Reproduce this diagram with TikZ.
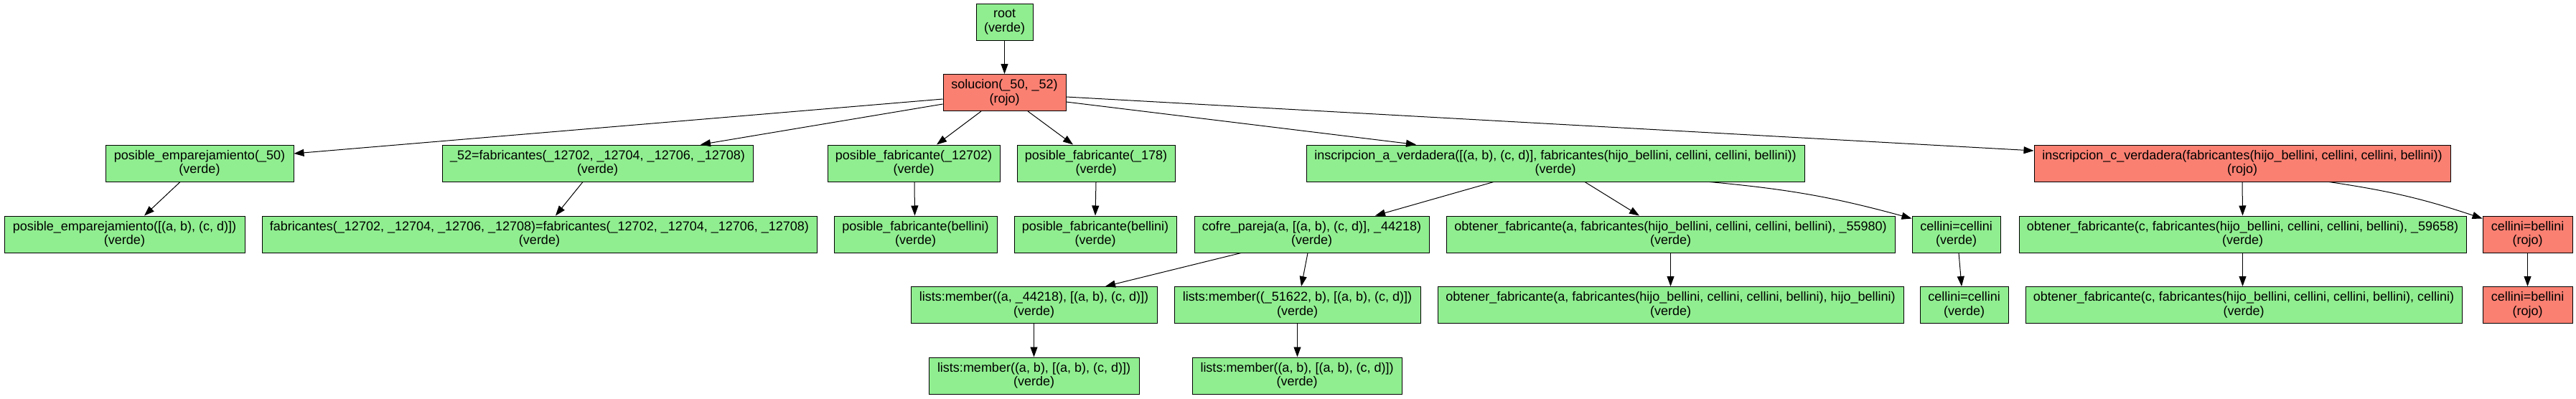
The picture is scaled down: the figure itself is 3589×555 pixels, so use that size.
\documentclass[tikz,border=0pt]{standalone}
\usepackage{fontspec}
\setmainfont{Liberation Sans}
\usetikzlibrary{arrows.meta,calc}
\definecolor{verdeC}{HTML}{90EE90}
\definecolor{rojoC}{HTML}{FA8072}
\tikzset{
 box/.style={draw=black, line width=1pt, minimum height=51pt, inner xsep=2pt, inner ysep=0pt, align=center, font=\fontsize{18}{19.5}\selectfont},
 verde/.style={box, fill=verdeC},
 rojo/.style={box, fill=rojoC},
 arr/.style={-{Triangle[length=14pt,width=10pt]}, line width=1pt}
}
\begin{document}
\begin{tikzpicture}[x=1pt,y=-1pt]
\useasboundingbox (0,0) rectangle (3589,555);
% level 0-1
\node[verde, minimum width=79pt] (root) at (1399.5,30.5) {root\\(verde)};
\node[rojo, minimum width=171pt] (sol) at (1399.5,129) {solucion(\_50, \_52)\\(rojo)};
% level 2
\node[verde, minimum width=262pt] (pe50) at (278,227.5) {posible\_emparejamiento(\_50)\\(verde)};
\node[verde, minimum width=433pt] (f52) at (832.5,227.5) {\_52=fabricantes(\_12702, \_12704, \_12706, \_12708)\\(verde)};
\node[verde, minimum width=240pt] (pf1) at (1273,227.5) {posible\_fabricante(\_12702)\\(verde)};
\node[verde, minimum width=220pt] (pf2) at (1527,227.5) {posible\_fabricante(\_178)\\(verde)};
\node[verde, minimum width=694pt] (insa) at (2167,227.5) {inscripcion\_a\_verdadera([(a, b), (c, d)], fabricantes(hijo\_bellini, cellini, cellini, bellini))\\(verde)};
\node[rojo, minimum width=580pt] (insc) at (3124,227.5) {inscripcion\_c\_verdadera(fabricantes(hijo\_bellini, cellini, cellini, bellini))\\(rojo)};
% level 3
\node[verde, minimum width=335pt] (pe) at (173.5,326.5) {posible\_emparejamiento([(a, b), (c, d)])\\(verde)};
\node[verde, minimum width=773pt] (ff) at (751.5,326.5) {fabricantes(\_12702, \_12704, \_12706, \_12708)=fabricantes(\_12702, \_12704, \_12706, \_12708)\\(verde)};
\node[verde, minimum width=227pt] (pfb1) at (1275.5,326.5) {posible\_fabricante(bellini)\\(verde)};
\node[verde, minimum width=226pt] (pfb2) at (1526,326.5) {posible\_fabricante(bellini)\\(verde)};
\node[verde, minimum width=327pt] (cofre) at (1827.5,326.5) {cofre\_pareja(a, [(a, b), (c, d)], \_44218)\\(verde)};
\node[verde, minimum width=625pt] (oa) at (2327.5,326.5) {obtener\_fabricante(a, fabricantes(hijo\_bellini, cellini, cellini, bellini), \_55980)\\(verde)};
\node[verde, minimum width=123pt] (cc3) at (2725.5,326.5) {cellini=cellini\\(verde)};
\node[verde, minimum width=623pt] (oc) at (3124.5,326.5) {obtener\_fabricante(c, fabricantes(hijo\_bellini, cellini, cellini, bellini), \_59658)\\(verde)};
\node[rojo, minimum width=125pt] (cb3) at (3521.5,326.5) {cellini=bellini\\(rojo)};
% level 4
\node[verde, minimum width=343pt] (lm1) at (1440.5,425) {lists:member((a, \_44218), [(a, b), (c, d)])\\(verde)};
\node[verde, minimum width=343pt] (lm2) at (1807.5,425) {lists:member((\_51622, b), [(a, b), (c, d)])\\(verde)};
\node[verde, minimum width=649pt] (oah) at (2327.5,425) {obtener\_fabricante(a, fabricantes(hijo\_bellini, cellini, cellini, bellini), hijo\_bellini)\\(verde)};
\node[verde, minimum width=123pt] (cc4) at (2736.5,425) {cellini=cellini\\(verde)};
\node[verde, minimum width=608pt] (occ) at (3126,425) {obtener\_fabricante(c, fabricantes(hijo\_bellini, cellini, cellini, bellini), cellini)\\(verde)};
\node[rojo, minimum width=125pt] (cb4) at (3521.5,425) {cellini=bellini\\(rojo)};
% level 5
\node[verde, minimum width=293pt] (lm3) at (1440.5,523.5) {lists:member((a, b), [(a, b), (c, d)])\\(verde)};
\node[verde, minimum width=292pt] (lm4) at (1807,523.5) {lists:member((a, b), [(a, b), (c, d)])\\(verde)};
% edges
\draw[arr] (root.south) -- (sol.north);
\draw[arr] ($(sol.west)+(0,9)$) -- ($(pe50.east)+(0,-13.5)$);
\draw[arr] ($(sol.west)+(0,16)$) -- ($(f52.north)+(143.5,0)$);
\draw[arr] ($(sol.south)+(-32.5,0)$) -- ($(pf1.north)+(32,0)$);
\draw[arr] ($(sol.south)+(32.5,0)$) -- ($(pf2.north)+(-32,0)$);
\draw[arr] ($(sol.east)+(0,13)$) -- ($(insa.north)+(-194,0)$);
\draw[arr] ($(sol.east)+(0,6)$) -- ($(insc.west)+(0,-17.5)$);
\draw[arr] ($(pe50.south)+(-27,0)$) -- ($(pe.north)+(27.5,0)$);
\draw[arr] ($(f52.south)+(-20.5,0)$) -- ($(ff.north)+(22.5,0)$);
\draw[arr] ($(pf1.south)+(1,0)$) -- ($(pfb1.north)+(-1,0)$);
\draw[arr] (pf2.south) -- (pfb2.north);
\draw[arr] ($(insa.south)+(-86,0)$) -- ($(cofre.north)+(88.5,0)$);
\draw[arr] ($(insa.south)+(41,0)$) -- ($(oa.north)+(-43.5,0)$);
\draw[arr] ($(insa.south)+(215,0)$) to[bend left=5] ($(cc3.north west)+(0,4)$);
\draw[arr] (insc.south) -- (oc.north);
\draw[arr] ($(insc.south)+(121,0)$) to[bend left=5] ($(cb3.north west)+(0,4)$);
\draw[arr] ($(cofre.south)+(-98.5,0)$) -- ($(lm1.north)+(99.5,0)$);
\draw[arr] ($(cofre.south)+(-5.5,0)$) -- ($(lm2.north)+(5.5,0)$);
\draw[arr] (oa.south) -- (oah.north);
\draw[arr] ($(cc3.south)+(3.5,0)$) -- ($(cc4.north)+(-3.5,0)$);
\draw[arr] (oc.south) -- ($(occ.north)+(-1.5,0)$);
\draw[arr] (cb3.south) -- (cb4.north);
\draw[arr] (lm1.south) -- (lm3.north);
\draw[arr] (lm2.south) -- ($(lm4.north)+(0.5,0)$);
\end{tikzpicture}
\end{document}
